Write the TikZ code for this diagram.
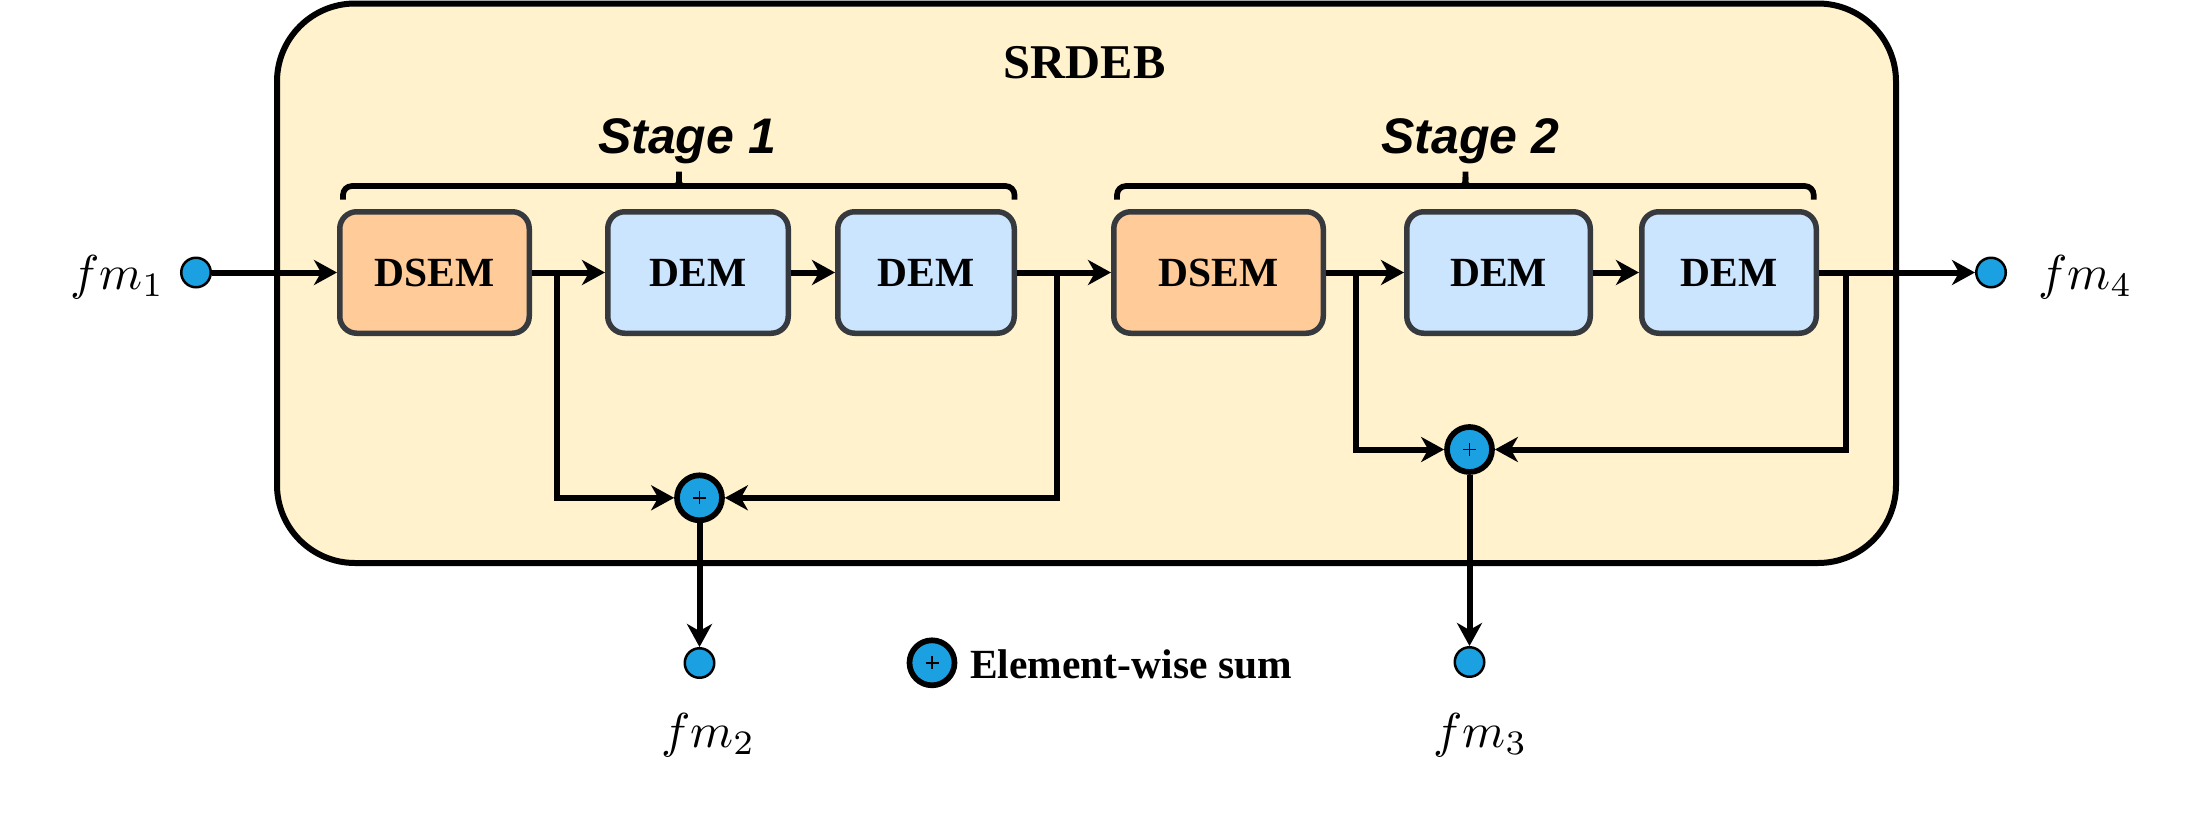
\documentclass[tikz,border=0pt]{standalone}
\usepackage[no-math]{fontspec}
\newfontfamily\serifbf{Liberation Serif}
\newfontfamily\sansbi{Liberation Sans}
\usetikzlibrary{arrows.meta}
\newcommand{\fmlabel}[1]{\scalebox{4.9}{\fontsize{10}{12}\selectfont$#1$}}
\definecolor{boxfill}{HTML}{FFF2CC}
\definecolor{orangefill}{HTML}{FFCC99}
\definecolor{bluefill}{HTML}{CCE5FF}
\definecolor{edgegray}{HTML}{36393D}
\definecolor{dotblue}{HTML}{1BA1E2}
\begin{document}
\begin{tikzpicture}[x=1pt,y=-1pt,
  blk/.style={draw=edgegray, line width=5.5pt, rounded corners=17pt, minimum height=121.5pt, inner sep=0pt, font=\serifbf\bfseries\fontsize{41.5}{50}\selectfont},
  dsem/.style={blk, fill=orangefill},
  dem/.style={blk, fill=bluefill},
  port/.style={circle, draw=black, line width=2.5pt, fill=dotblue, minimum size=29.5pt, inner sep=0pt},
  sumnode/.style={circle, draw=black, line width=5.7pt, fill=dotblue, minimum size=45pt, inner sep=0pt,
    path picture={\draw[line width=1.4pt] ([xshift=-6.5pt]path picture bounding box.center) -- ([xshift=6.5pt]path picture bounding box.center)
      ([yshift=-6.5pt]path picture bounding box.center) -- ([yshift=6.5pt]path picture bounding box.center);}},
  conn/.style={line width=6pt, -{Stealth[length=23pt,width=25pt,inset=7pt]}},
  bracestyle/.style={line width=5.7pt},
  mathlbl/.style={inner sep=0pt, anchor=base west},
  stagelbl/.style={inner sep=0pt, anchor=base, font=\sansbi\bfseries\itshape\fontsize{50}{60}\selectfont},
  titlelbl/.style={inner sep=0pt, anchor=base, font=\serifbf\bfseries\fontsize{48.5}{58}\selectfont},
  legendlbl/.style={inner sep=0pt, anchor=base west, font=\serifbf\bfseries\fontsize{41.5}{50}\selectfont}
]
\useasboundingbox (0,0) rectangle (2198,812);

% outer block
\draw[line width=6pt, fill=boxfill, rounded corners=78pt] (277,3.5) rectangle (1896,563);
\node[titlelbl] (title) at (1084.5,78) {SRDEB};

% braces
\draw[bracestyle, rounded corners=9pt] (343,199.5) |- (1014.5,186) -- (1014.5,199.5);
\draw[bracestyle] (670,186) .. controls (679,186) .. (679,177) -- (679,171.5);
\draw[bracestyle] (688,186) .. controls (679,186) .. (679,177);
\draw[bracestyle, rounded corners=9pt] (1117,199.5) |- (1813.7,186) -- (1813.7,199.5);
\draw[bracestyle] (1456.4,186) .. controls (1465.4,186) .. (1465.4,177) -- (1465.4,171.5);
\draw[bracestyle] (1474.4,186) .. controls (1465.4,186) .. (1465.4,177);
\node[stagelbl] (stA) at (687,153) {Stage 1};
\node[stagelbl] (stB) at (1470.5,153) {Stage 2};

% blocks
\node[dsem, minimum width=189.5pt] (dsemA) at (434.5,272.5) {DSEM};
\node[dem, minimum width=180.5pt] (demA) at (698,272.5) {DEM};
\node[dem, minimum width=176.5pt] (demB) at (926,272.5) {DEM};
\node[dsem, minimum width=209.5pt] (dsemB) at (1218.5,272.5) {DSEM};
\node[dem, minimum width=183.5pt] (demC) at (1498.5,272.5) {DEM};
\node[dem, minimum width=174.5pt] (demD) at (1729,272.5) {DEM};

% ports
\node[port] (fmA) at (196,272.5) {};
\node[port] (fmD) at (1991,272.5) {};
\node[port] (fmB) at (699.5,663) {};
\node[port] (fmC) at (1469.5,662) {};

% sums
\node[sumnode] (sumA) at (699.5,497.8) {};
\node[sumnode] (sumB) at (1469.5,449.5) {};
\node[sumnode] (legend) at (932,662.8) {};
\node[legendlbl] (legtext) at (970,678) {Element-wise sum};

% branch points
\coordinate (brA) at (556.7,272.5);
\coordinate (brB) at (1056.7,272.5);
\coordinate (brC) at (1356,272.5);
\coordinate (brD) at (1846,272.5);

% connectors
\draw[conn] (fmA) -- (dsemA);
\draw[conn] (dsemA) -- (demA);
\draw[conn] (demA) -- (demB);
\draw[conn] (demB) -- (dsemB);
\draw[conn] (dsemB) -- (demC);
\draw[conn] (demC) -- (demD);
\draw[conn] (demD) -- (fmD);
\draw[conn] (brA) |- (sumA);
\draw[conn] (brB) |- (sumA);
\draw[conn] (brC) |- (sumB);
\draw[conn] (brD) |- (sumB);
\draw[conn] (sumA) -- (fmB);
\draw[conn] (sumB) -- (fmC);

% labels
\node[mathlbl] (lA) at (70,289) {\fmlabel{fm_1}};
\node[mathlbl] (lB) at (661,747) {\fmlabel{fm_2}};
\node[mathlbl] (lC) at (1433,747) {\fmlabel{fm_3}};
\node[mathlbl] (lD) at (2038,289) {\fmlabel{fm_4}};
\end{tikzpicture}
\end{document}
